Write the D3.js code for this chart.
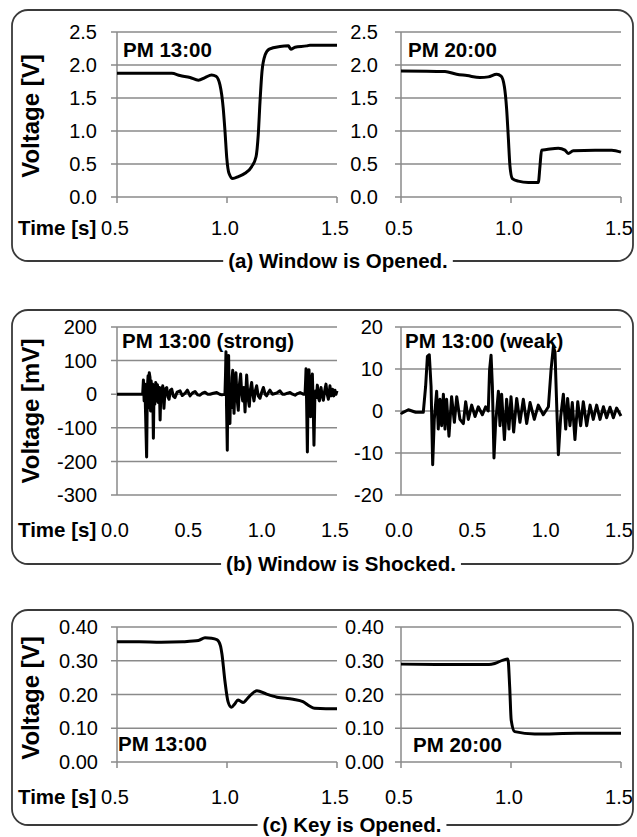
<!DOCTYPE html>
<html>
<head>
<meta charset="utf-8">
<script src="https://cdn.jsdelivr.net/npm/d3@7"></script>
<style>
  body { margin: 0; background: #fff; }
  text { font-family: "Liberation Sans", Arial, sans-serif; fill: #000; }
</style>
</head>
<body>
<svg id="chart" width="637" height="837"></svg>
<script>
// ---- data ----
// (a) window opened, [time s, voltage V]
var openPM13 = [[0.5,1.874],[0.6,1.874],[0.749,1.874],[0.786,1.84],[0.832,1.81],[0.87,1.77],[0.9,1.81],
  [0.93,1.85],[0.95,1.83],[0.968,1.70],[0.983,1.34],[0.991,0.99],[0.999,0.59],[1.009,0.36],[1.026,0.28],
  [1.052,0.31],[1.082,0.36],[1.112,0.46],[1.132,0.61],[1.142,0.94],[1.15,1.44],[1.159,1.90],[1.173,2.15],
  [1.192,2.24],[1.241,2.28],[1.279,2.29],[1.29,2.24],[1.309,2.27],[1.362,2.29],[1.377,2.30],[1.5,2.30]];
var openPM20 = [[0.5,1.91],[0.7,1.90],[0.753,1.86],[0.8,1.84],[0.859,1.81],[0.897,1.82],[0.935,1.86],
  [0.955,1.83],[0.97,1.67],[0.98,1.34],[0.988,0.89],[0.995,0.48],[1.006,0.28],[1.033,0.24],[1.079,0.22],
  [1.124,0.22],[1.132,0.48],[1.139,0.71],[1.162,0.72],[1.215,0.74],[1.245,0.71],[1.26,0.66],[1.283,0.70],
  [1.382,0.71],[1.458,0.71],[1.5,0.68]];

// (b) window shocked, [time s, voltage mV]
var shockStrong = [
  [0,0],[0.175,0],[0.180,42],[0.185,-20],[0.190,30],[0.195,-60],[0.202,-187],[0.207,20],[0.212,55],
  [0.216,-40],[0.220,64],[0.225,50],[0.229,-50],[0.233,40],[0.238,-20],[0.243,30],[0.248,-131],[0.253,25],
  [0.258,-30],[0.264,35],[0.270,-20],[0.276,28],[0.282,-25],[0.289,20],[0.294,-77],[0.300,18],[0.306,-10],
  [0.312,25],[0.320,-42],[0.328,15],[0.339,20],[0.347,-8],[0.355,-15],[0.364,12],[0.373,15],[0.384,-6],
  [0.395,-10],[0.410,6],[0.430,10],[0.445,-4],[0.465,3],[0.480,12],[0.498,-5],[0.515,4],[0.532,8],
  [0.550,-2],[0.566,-3],[0.583,3],[0.600,6],[0.617,0],[0.634,0],[0.657,3],[0.680,5],[0.700,0],[0.714,-2],
  [0.736,0],[0.740,60],[0.743,126],[0.747,-40],[0.752,-167],[0.756,40],[0.761,115],[0.765,-20],[0.770,-87],
  [0.775,30],[0.780,-40],[0.785,50],[0.789,71],[0.794,-10],[0.798,-57],[0.804,20],[0.811,64],[0.818,-10],
  [0.827,-48],[0.835,30],[0.843,60],[0.850,5],[0.857,-20],[0.865,20],[0.873,-53],[0.879,10],[0.884,57],
  [0.893,-10],[0.902,-36],[0.910,15],[0.918,35],[0.926,0],[0.934,-20],[0.943,10],[0.952,25],[0.963,-5],
  [0.975,-12],[0.986,5],[0.998,20],[1.010,0],[1.020,-5],[1.032,5],[1.043,12],[1.060,0],[1.077,2],
  [1.094,5],[1.111,10],[1.128,0],[1.145,0],[1.163,3],[1.180,5],[1.197,0],[1.214,-3],[1.231,2],[1.248,5],
  [1.270,0],[1.282,0],[1.286,40],[1.289,76],[1.293,-30],[1.298,-172],[1.303,10],[1.309,73],[1.314,20],
  [1.320,-67],[1.326,30],[1.332,60],[1.337,-20],[1.343,-152],[1.349,-10],[1.355,10],[1.360,-10],[1.366,27],
  [1.373,-10],[1.380,-20],[1.385,5],[1.391,20],[1.399,-5],[1.407,-18],[1.416,10],[1.425,30],[1.433,0],
  [1.441,-15],[1.447,5],[1.452,25],[1.460,-5],[1.470,15],[1.478,-5],[1.486,12],[1.493,0],[1.500,10]];
var shockWeak = [
  [0,-0.3],[0.005,-0.5],[0.05,0.3],[0.10,-0.3],[0.152,-0.3],[0.168,5.9],[0.180,13],[0.193,13.4],[0.205,5.9],
  [0.216,-12.8],[0.227,-2],[0.243,4.7],[0.254,-4.3],[0.266,2.8],[0.277,-3.5],[0.289,4],[0.300,-4.3],
  [0.311,2.8],[0.327,-6],[0.345,3.4],[0.364,-2.7],[0.380,3.4],[0.402,-2],[0.425,-3],[0.441,2.2],[0.459,-2],
  [0.482,1.4],[0.505,-1.3],[0.527,1],[0.555,-0.9],[0.577,1],[0.595,0],[0.604,9.8],[0.614,13.3],[0.623,5.9],
  [0.634,-11.2],[0.645,-3],[0.664,4.7],[0.675,-3.5],[0.686,4],[0.705,-6.8],[0.720,2.8],[0.736,-4.3],
  [0.750,3.4],[0.768,-5],[0.789,3],[0.811,-2.7],[0.834,2.8],[0.857,-3],[0.880,2],[0.909,-2],[0.936,1.4],
  [0.970,-0.9],[1.005,1],[1.023,9.8],[1.039,15.4],[1.050,14],[1.061,2],[1.073,-10.4],[1.089,-1.3],
  [1.107,4],[1.123,-4.3],[1.136,3],[1.152,-3.5],[1.168,2],[1.186,-6.8],[1.205,2.2],[1.225,-3.5],
  [1.243,2.2],[1.266,-3.5],[1.289,1.4],[1.311,-2],[1.334,1.4],[1.357,-2],[1.380,1],[1.402,-1.6],
  [1.425,0.9],[1.448,-1.6],[1.470,0.7],[1.500,-1.2]];

// (c) key opened, [time s, voltage V]
var keyPM13 = [[0.5,0.356],[0.6,0.356],[0.7,0.355],[0.8,0.356],[0.83,0.358],[0.87,0.360],[0.9,0.368],
  [0.93,0.367],[0.955,0.362],[0.97,0.345],[0.977,0.32],[0.99,0.243],[1.005,0.178],[1.02,0.162],
  [1.035,0.172],[1.05,0.184],[1.062,0.180],[1.073,0.176],[1.09,0.186],[1.11,0.200],[1.136,0.211],
  [1.18,0.201],[1.227,0.192],[1.30,0.186],[1.345,0.179],[1.375,0.166],[1.398,0.159],[1.45,0.158],[1.5,0.158]];
var keyPM20 = [[0.5,0.290],[0.7,0.289],[0.9,0.289],[0.926,0.292],[0.964,0.302],[0.986,0.305],
  [0.994,0.223],[1.001,0.124],[1.017,0.090],[1.108,0.083],[1.3,0.085],[1.5,0.085]];

// axis ticks and labels
var yTicksOpen = [0, 0.5, 1, 1.5, 2, 2.5];
var yLabelsOpen = ["0.0", "0.5", "1.0", "1.5", "2.0", "2.5"];
var xTicksHalf = [0.5, 1, 1.5];
var xLabelsHalf = ["0.5", "1.0", "1.5"];
var yTicksStrong = [-300, -200, -100, 0, 100, 200];
var yLabelsStrong = ["-300", "-200", "-100", "0", "100", "200"];
var yTicksWeak = [-20, -10, 0, 10, 20];
var yLabelsWeak = ["-20", "-10", "0", "10", "20"];
var xTicksShock = [0, 0.5, 1, 1.5];
var xLabelsShock = ["0.0", "0.5", "1.0", "1.5"];
var yTicksKey = [0, 0.1, 0.2, 0.3, 0.4];
var yLabelsKey = ["0.00", "0.10", "0.20", "0.30", "0.40"];

var svg = d3.select('#chart');
var gridColor = '#8a8a8a';
var plotW = 220;

function drawBox(top, bottom, caption, cx) {
    svg.append('rect')
        .attr('x', 12).attr('y', top)
        .attr('width', 621).attr('height', bottom - top)
        .attr('rx', 16)
        .attr('fill', 'none').attr('stroke', '#3a3a3a').attr('stroke-width', 1.8);
    var t = svg.append('text')
        .attr('x', cx).attr('y', bottom + 7)
        .attr('text-anchor', 'middle')
        .attr('font-weight', 'bold').attr('font-size', 20.5)
        .text(caption);
    var bb = t.node().getBBox();
    svg.insert('rect', function () { return t.node(); })
        .attr('x', bb.x - 5).attr('y', bottom - 4)
        .attr('width', bb.width + 10).attr('height', 8)
        .attr('fill', '#fff');
}

function drawPlot(o) {
    var x = d3.scaleLinear().domain(o.xDomain).range([o.left, o.left + plotW]);
    var y = d3.scaleLinear().domain(o.yDomain).range([o.bottom, o.top]);
    var g = svg.append('g');

    g.selectAll('line.grid')
        .data(o.yTicks)
        .join('line')
        .attr('x1', o.left - 6).attr('x2', o.left + plotW)
        .attr('y1', function (d) { return y(d); })
        .attr('y2', function (d) { return y(d); })
        .attr('stroke', gridColor).attr('stroke-width', 1.5);

    g.append('line')
        .attr('x1', o.left).attr('x2', o.left)
        .attr('y1', o.top).attr('y2', o.bottom + (o.xMarks ? 6 : 0))
        .attr('stroke', gridColor).attr('stroke-width', 1.5);

    if (o.xMarks) {
        g.selectAll('line.xmark')
            .data(o.xTicks.slice(1))
            .join('line')
            .attr('x1', function (d) { return x(d); })
            .attr('x2', function (d) { return x(d); })
            .attr('y1', o.bottom).attr('y2', o.bottom + 6)
            .attr('stroke', gridColor).attr('stroke-width', 1.5);
    }

    g.selectAll('text.ylab')
        .data(o.yTicks)
        .join('text')
        .attr('x', o.labelRight)
        .attr('y', function (d) { return y(d); })
        .attr('dy', '0.36em')
        .attr('text-anchor', 'end')
        .attr('font-size', 20)
        .text(function (d, i) { return o.yLabels[i]; });

    g.selectAll('text.xlab')
        .data(o.xTicks)
        .join('text')
        .attr('x', function (d) { return x(d) - 2; })
        .attr('y', o.xLabelY)
        .attr('text-anchor', 'middle')
        .attr('font-size', 20)
        .text(function (d, i) { return o.xLabels[i]; });

    var line = d3.line()
        .x(function (d) { return x(d[0]); })
        .y(function (d) { return y(d[1]); })
        .curve(o.curve);

    g.append('path')
        .datum(o.data)
        .attr('d', line)
        .attr('fill', 'none')
        .attr('stroke', '#000')
        .attr('stroke-width', 3)
        .attr('stroke-linejoin', 'round');

    g.append('text')
        .attr('x', o.noteX).attr('y', o.noteY)
        .attr('font-weight', 'bold').attr('font-size', 20.5)
        .text(o.note);
}

function sideLabels(yLabel, cy, timeY) {
    svg.append('text')
        .attr('transform', 'translate(31,' + cy + ') rotate(-90)')
        .attr('dy', '0.35em')
        .attr('text-anchor', 'middle')
        .attr('font-weight', 'bold').attr('font-size', 24)
        .text(yLabel);
    svg.append('text')
        .attr('x', 18).attr('y', timeY)
        .attr('font-weight', 'bold').attr('font-size', 20.5)
        .text('Time [s]');
}

// (a)
drawBox(10, 261, '(a) Window is Opened.', 338);
sideLabels('Voltage [V]', 116, 235);
drawPlot({ data: openPM13, xDomain: [0.5, 1.5], yDomain: [0, 2.5], left: 117, top: 32, bottom: 197,
    yTicks: yTicksOpen, yLabels: yLabelsOpen, xTicks: xTicksHalf, xLabels: xLabelsHalf, xMarks: true,
    labelRight: 97, xLabelY: 235, curve: d3.curveMonotoneX, note: 'PM 13:00', noteX: 123, noteY: 57 });
drawPlot({ data: openPM20, xDomain: [0.5, 1.5], yDomain: [0, 2.5], left: 401, top: 32, bottom: 197,
    yTicks: yTicksOpen, yLabels: yLabelsOpen, xTicks: xTicksHalf, xLabels: xLabelsHalf, xMarks: true,
    labelRight: 378, xLabelY: 235, curve: d3.curveMonotoneX, note: 'PM 20:00', noteX: 408, noteY: 57 });

// (b)
drawBox(310, 564, '(b) Window is Shocked.', 341);
sideLabels('Voltage [mV]', 411, 537);
drawPlot({ data: shockStrong, xDomain: [0, 1.5], yDomain: [-300, 200], left: 117, top: 327, bottom: 495,
    yTicks: yTicksStrong, yLabels: yLabelsStrong, xTicks: xTicksShock, xLabels: xLabelsShock, xMarks: false,
    labelRight: 97, xLabelY: 537, curve: d3.curveLinear, note: 'PM 13:00 (strong)', noteX: 122, noteY: 348 });
drawPlot({ data: shockWeak, xDomain: [0, 1.5], yDomain: [-20, 20], left: 401, top: 327, bottom: 495,
    yTicks: yTicksWeak, yLabels: yLabelsWeak, xTicks: xTicksShock, xLabels: xLabelsShock, xMarks: false,
    labelRight: 383, xLabelY: 537, curve: d3.curveLinear, note: 'PM 13:00 (weak)', noteX: 405, noteY: 348 });

// (c)
drawBox(610, 825, '(c) Key is Opened.', 352);
sideLabels('Voltage [V]', 698, 804);
drawPlot({ data: keyPM13, xDomain: [0.5, 1.5], yDomain: [0, 0.4], left: 117, top: 627, bottom: 762,
    yTicks: yTicksKey, yLabels: yLabelsKey, xTicks: xTicksHalf, xLabels: xLabelsHalf, xMarks: true,
    labelRight: 98, xLabelY: 804, curve: d3.curveMonotoneX, note: 'PM 13:00', noteX: 118, noteY: 751 });
drawPlot({ data: keyPM20, xDomain: [0.5, 1.5], yDomain: [0, 0.4], left: 401, top: 627, bottom: 762,
    yTicks: yTicksKey, yLabels: yLabelsKey, xTicks: xTicksHalf, xLabels: xLabelsHalf, xMarks: true,
    labelRight: 384, xLabelY: 804, curve: d3.curveMonotoneX, note: 'PM 20:00', noteX: 413, noteY: 752 });
</script>
</body>
</html>
